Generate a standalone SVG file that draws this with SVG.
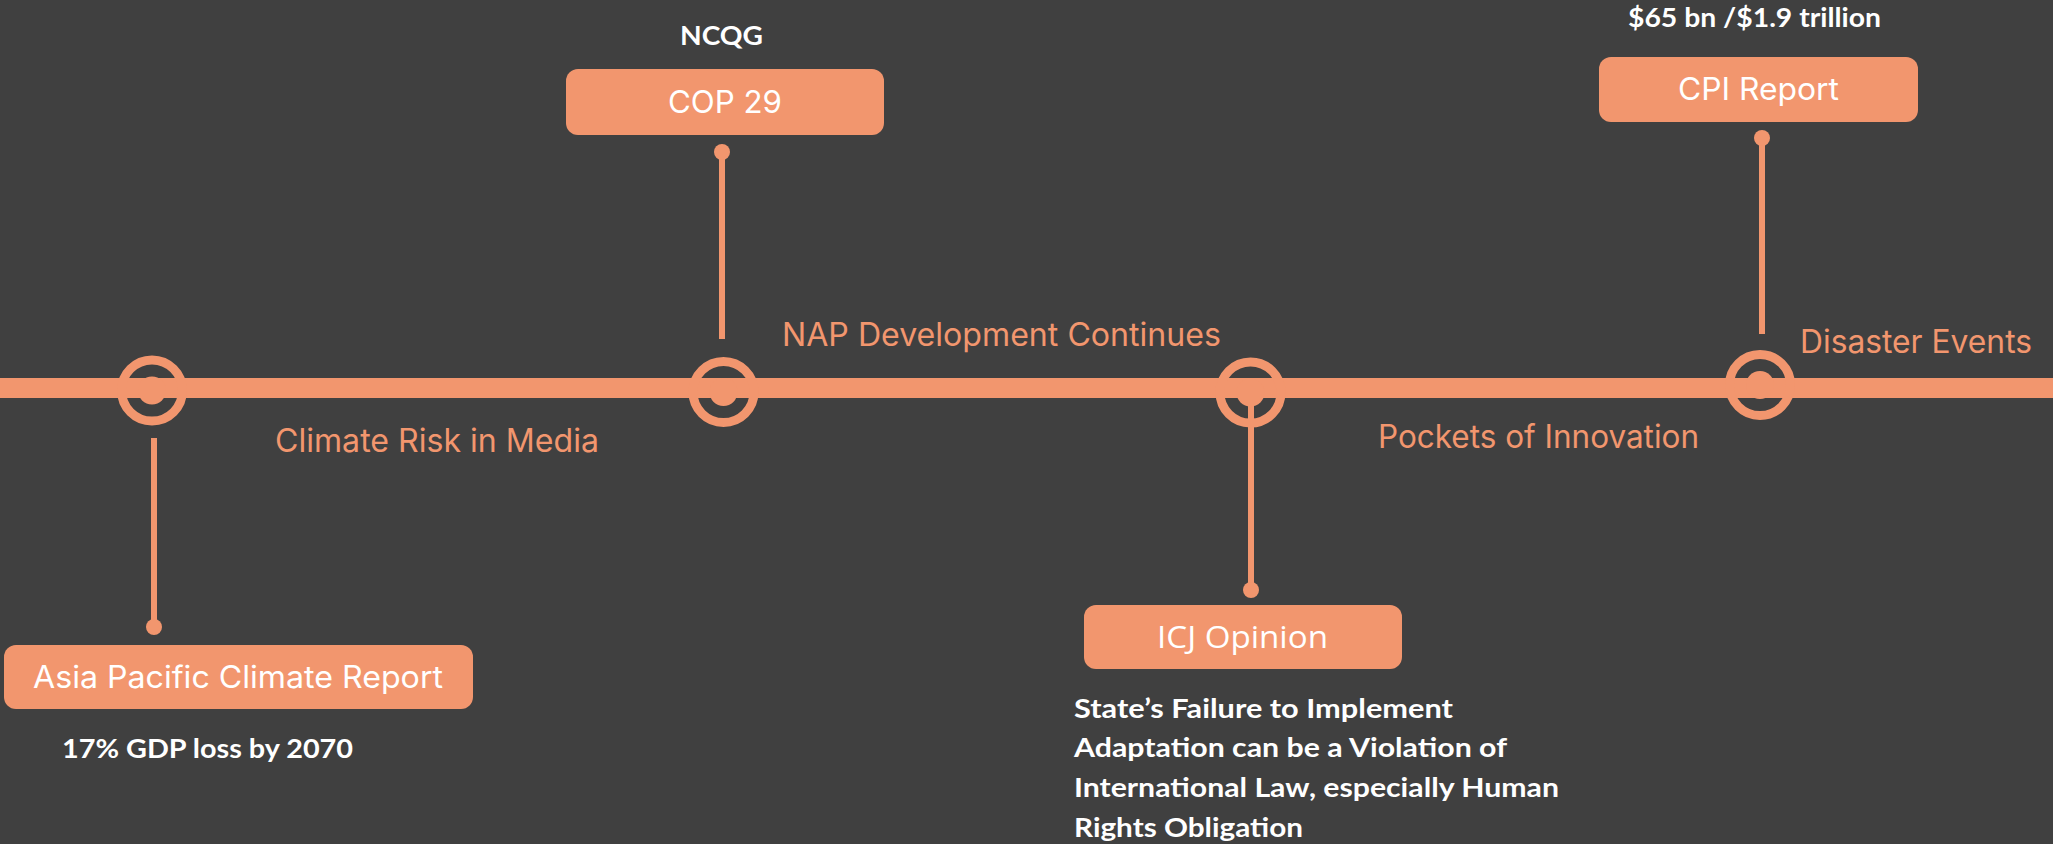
<svg xmlns="http://www.w3.org/2000/svg" width="2053" height="844" viewBox="0 0 2053 844">
<style>
.bg{fill:#404040}
.box{fill:#F2966E}
.ring{fill:none;stroke:#F2966E;stroke-width:9}
.dot{fill:#F2966E}
.stem{stroke:#F2966E;stroke-width:6;fill:none}
.lbl{font-family:Inter,"Liberation Sans",Arial,sans-serif;font-size:32px;fill:#F2966E}
.btxt{font-family:Inter,"Liberation Sans",Arial,sans-serif;font-size:31px;fill:#FFFFFF}
.note{font-family:Lato,"Noto Sans","Liberation Sans",sans-serif;font-weight:bold;font-size:26px;fill:#FFFFFF}
</style>
<rect class="bg" x="0" y="0" width="2053" height="844"/>
<g id="connectors">
<rect x="0" y="378" width="2053" height="20" fill="#F2966E"/>
<line class="stem" x1="154" y1="438" x2="154" y2="627"/>
<line class="stem" x1="722" y1="152" x2="722" y2="339"/>
<line class="stem" x1="1251" y1="392" x2="1251" y2="590"/>
<line class="stem" x1="1762" y1="138" x2="1762" y2="334"/>
<circle class="dot" cx="154" cy="627" r="8"/>
<circle class="dot" cx="722" cy="152" r="8"/>
<circle class="dot" cx="1251" cy="590" r="8"/>
<circle class="dot" cx="1762" cy="138" r="8"/>
</g>
<g id="marker-asia">
<circle class="ring" cx="152" cy="390.5" r="30.5"/>
<circle class="dot" cx="152" cy="390.5" r="14"/>
</g>
<g id="marker-cop">
<circle class="ring" cx="723.5" cy="392" r="30.5"/>
<circle class="dot" cx="723.5" cy="392" r="14"/>
</g>
<g id="marker-icj">
<circle class="ring" cx="1250.5" cy="392.5" r="30.5"/>
<circle class="dot" cx="1250.5" cy="392.5" r="14"/>
</g>
<g id="marker-cpi">
<circle class="ring" cx="1760" cy="385" r="30.5"/>
<circle class="dot" cx="1760" cy="385" r="14"/>
</g>
<g id="label-climate-risk">
<text class="lbl" x="275" y="452" textLength="324" lengthAdjust="spacingAndGlyphs">Climate Risk in Media</text>
</g>
<g id="label-nap">
<text class="lbl" x="782" y="346" textLength="439" lengthAdjust="spacingAndGlyphs">NAP Development Continues</text>
</g>
<g id="label-pockets">
<text class="lbl" x="1378" y="448" textLength="321" lengthAdjust="spacingAndGlyphs">Pockets of Innovation</text>
</g>
<g id="label-disaster">
<text class="lbl" x="1800" y="353" textLength="232" lengthAdjust="spacingAndGlyphs">Disaster Events</text>
</g>
<g id="node-asia">
<rect class="box" x="4" y="645" width="469" height="64" rx="12"/>
<text class="btxt" x="33" y="688" textLength="410" lengthAdjust="spacingAndGlyphs">Asia Pacific Climate Report</text>
<text class="note" x="62" y="758" textLength="291" lengthAdjust="spacingAndGlyphs">17% GDP loss by 2070</text>
</g>
<g id="node-cop">
<text class="note" x="680" y="45" font-size="27" textLength="83" lengthAdjust="spacingAndGlyphs">NCQG</text>
<rect class="box" x="566" y="69" width="318" height="66" rx="12"/>
<text class="btxt" x="668" y="113" textLength="114" lengthAdjust="spacingAndGlyphs">COP 29</text>
</g>
<g id="node-icj">
<rect class="box" x="1084" y="605" width="318" height="64" rx="12"/>
<text class="btxt" x="1157" y="648" style="font-family:'Open Sans','Noto Sans',sans-serif" textLength="171" lengthAdjust="spacingAndGlyphs">ICJ Opinion</text>
<text class="note" x="1074" y="718" textLength="379" lengthAdjust="spacingAndGlyphs">State’s Failure to Implement</text>
<text class="note" x="1074" y="757" textLength="433" lengthAdjust="spacingAndGlyphs">Adaptation can be a Violation of</text>
<text class="note" x="1074" y="797" textLength="485" lengthAdjust="spacingAndGlyphs">International Law, especially Human</text>
<text class="note" x="1074" y="837" textLength="229" lengthAdjust="spacingAndGlyphs">Rights Obligation</text>
</g>
<g id="node-cpi">
<text class="note" x="1628" y="27" font-size="27" textLength="253" lengthAdjust="spacingAndGlyphs">$65 bn /$1.9 trillion</text>
<rect class="box" x="1599" y="57" width="319" height="65" rx="12"/>
<text class="btxt" x="1678" y="100" textLength="161" lengthAdjust="spacingAndGlyphs">CPI Report</text>
</g>
</svg>
